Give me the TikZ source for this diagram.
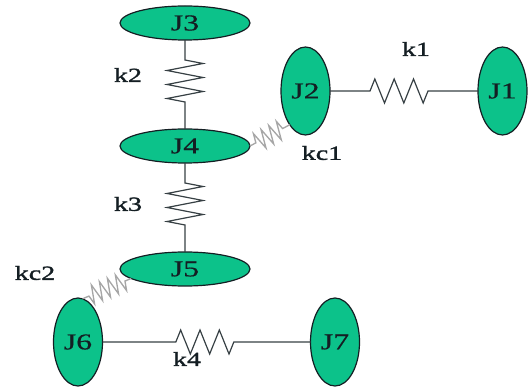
\documentclass[tikz,border=0pt]{standalone}
\usepackage{fontspec}
\setmainfont{Liberation Serif}
\newfontfamily\jointfont[FakeStretch=1.4,FakeBold=0.6]{Liberation Serif}
\newfontfamily\labelfont[FakeStretch=1.4,FakeBold=1.6]{Liberation Serif}
\usepackage{tikz}
\usetikzlibrary{shapes.geometric, positioning, decorations.pathmorphing}
\definecolor{jointgreen}{RGB}{12,194,138}
\definecolor{inkdark}{RGB}{20,30,35}
\tikzset{
    jointh/.style={
        ellipse,
        draw=inkdark,
        line width=0.9pt,
        minimum width=97.5pt,
        minimum height=25.5pt,
        inner sep=0pt,
        outer sep=0pt,
        fill=jointgreen,
        text=inkdark,
        font=\fontsize{17}{18}\jointfont
    },
    jointv/.style={
        jointh,
        minimum width=36.75pt,
        minimum height=66pt
    },
    spring/.style={
        draw=inkdark!85,
        line width=0.9pt,
        decorate,
        decoration={zigzag, amplitude=#1, segment length=14.5pt}
    },
    coupler/.style={
        draw=gray!70,
        line width=1pt,
        decorate,
        decoration={zigzag, amplitude=7pt, segment length=6.5pt, pre length=5pt, post length=5pt}
    },
    springlabel/.style={
        text=inkdark,
        inner sep=0pt,
        font=\fontsize{15}{16}\labelfont
    }
}

\begin{document}
\begin{tikzpicture}[x=0.75pt, y=-0.75pt]
\useasboundingbox (0,0) rectangle (531,388);

% Vertical chain
\node[jointh] (J3) at (185,23) {J3};
\node[jointh, below=66.75pt of J3] (J4) {J4};
\node[jointh, below=66.75pt of J4] (J5) {J5};

% Top pair
\node[jointv] (J2) at (305.5,91) {J2};
\node[jointv, right=111pt of J2] (J1) {J1};

% Bottom pair
\node[jointv] (J6) at (78,342) {J6};
\node[jointv, right=156pt of J6] (J7) {J7};

% Springs
\draw[spring=13.5pt, decoration={pre length=15pt, post length=20pt, segment length=10.5pt}] (J3.south) -- (J4.north);
\draw[spring=13.5pt, decoration={pre length=15pt, post length=20pt, segment length=10.5pt}] (J4.south) -- (J5.north);
\draw[spring=9pt, decoration={pre length=30pt, post length=34pt}] (J2.east) -- (J1.west);
\draw[spring=9pt, decoration={pre length=55pt, post length=57pt}] (J6.east) -- (J7.west);

% Grey couplers
\draw[coupler] (J4.east) -- (J2.245);
\draw[coupler] (J5.190) -- (J6.84);

% Labels
\node[springlabel] (k1) at (416,49) {k1};
\node[springlabel] (k2) at (128,75) {k2};
\node[springlabel] (k3) at (128,204) {k3};
\node[springlabel] (k4) at (187,359) {k4};
\node[springlabel] (kc1) at (322,153) {kc1};
\node[springlabel] (kc2) at (35,273) {kc2};

\end{tikzpicture}
\end{document}
